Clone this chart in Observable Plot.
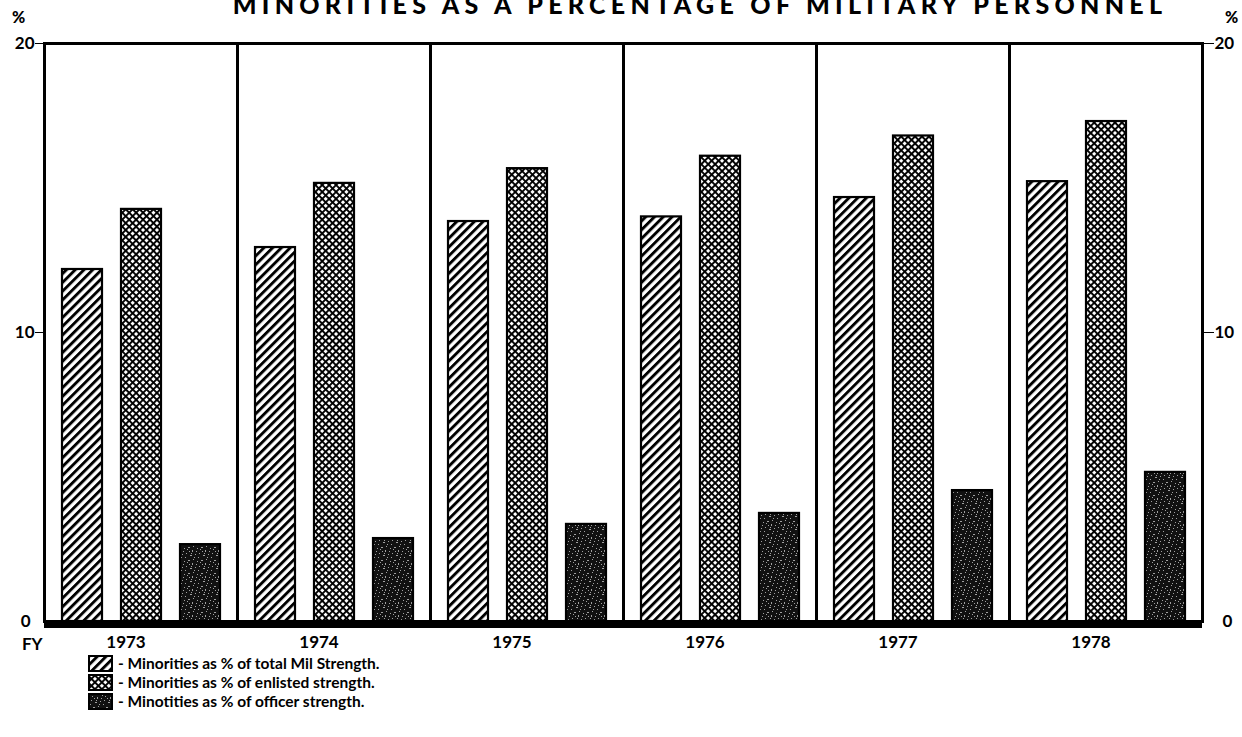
<!DOCTYPE html>
<html>
<head>
<meta charset="utf-8">
<script src="https://cdn.jsdelivr.net/npm/d3@7"></script>
<script src="https://cdn.jsdelivr.net/npm/@observablehq/plot@0.6"></script>
<style>
  body { margin: 0; background: #fff; }
  #wrap { position: relative; width: 1242px; height: 737px; overflow: hidden; font-family: Lato, "DejaVu Sans", sans-serif; color: #000; }
  #title { position: absolute; top: -8px; left: 700px; transform: translateX(-50%); white-space: nowrap;
           font-size: 25px; line-height: 25px; font-weight: 900; letter-spacing: 5.3px; }
  #chart { position: absolute; left: 0; top: 0; }
  .pct { position: absolute; top: 7px; font-size: 16px; font-weight: 900; }
  #fy { position: absolute; left: 22px; top: 633px; font-size: 17px; font-weight: 700; }
  #legend { position: absolute; left: 88px; top: 654px; }
  .row { display: flex; align-items: center; height: 19px; font-size: 15.5px; line-height: 17px; font-weight: 700; }
  .row svg { margin-right: 5px; }
</style>
</head>
<body>
<div id="wrap">
  <div id="chart"></div>
  <div id="title">MINORITIES AS A PERCENTAGE OF MILITARY PERSONNEL</div>
  <div class="pct" style="left:12px">%</div>
  <div class="pct" style="left:1225px">%</div>
  <div id="fy">FY</div>
  <div id="legend"></div>
</div>
<script>
// ---- data ----
const years = ["1973", "1974", "1975", "1976", "1977", "1978"];
const seriesKeys = ["total", "enlisted", "officer"];
const seriesLabels = [
  "- Minorities as % of total Mil Strength.",
  "- Minorities as % of enlisted strength.",
  "- Minotities as % of officer strength."
];
const totalPct    = [12.18, 12.94, 13.84, 14.0, 14.67, 15.22];
const enlistedPct = [14.26, 15.16, 15.67, 16.1, 16.8, 17.3];
const officerPct  = [2.66, 2.87, 3.36, 3.74, 4.53, 5.16];
const yTicksMain = [10, 20];
const yTickZero = [0];
const patternIds = ["pHatch", "pCross", "pDark"];

const seriesValues = [totalPct, enlistedPct, officerPct];
const data = years.flatMap((year, i) =>
  seriesKeys.map((s, j) => ({ year, series: s, value: seriesValues[j][i] })));

const font = { fontSize: 17, fontWeight: "bold" };

const chart = Plot.plot({
  width: 1242,
  height: 662,
  marginTop: 43,
  marginBottom: 41,
  marginLeft: 43,
  marginRight: 39,
  style: { fontFamily: "Lato, 'DejaVu Sans', sans-serif", background: "transparent" },
  fx: { domain: years, padding: 0, label: null },
  x: { domain: seriesKeys, paddingInner: 0.33, paddingOuter: 0.29, axis: null },
  y: { domain: [0, 20], label: null },
  color: { domain: seriesKeys, range: patternIds.map(id => `url(#${id})`) },
  marks: [
    Plot.frame({ stroke: "black", strokeWidth: 3 }),
    Plot.barY(data, { fx: "year", x: "series", y: "value", fill: "series", stroke: "black", strokeWidth: 2.2 }),
    Plot.ruleY([0], { stroke: "black", strokeWidth: 7, dy: 3 }),
    Plot.axisY({ anchor: "left", ticks: yTicksMain, tickSize: 9, tickPadding: 1, label: null, ...font }),
    Plot.axisY({ anchor: "left", ticks: yTickZero, tickSize: 0, tickPadding: 14, label: null, ...font }),
    Plot.axisY({ anchor: "right", ticks: yTicksMain, tickSize: 11, tickPadding: 1, label: null, ...font }),
    Plot.axisY({ anchor: "right", ticks: yTickZero, tickSize: 0, tickPadding: 20, label: null, ...font }),
    Plot.axisFx({ anchor: "bottom", tickSize: 0, tickPadding: 14, dx: -15, label: null, ...font })
  ]
});

// pattern definitions
function addDefs(svgSel) {
  const defs = svgSel.insert("defs", ":first-child");
  const h = defs.append("pattern").attr("id", "pHatch").attr("patternUnits", "userSpaceOnUse")
    .attr("width", 6.2).attr("height", 6.2).attr("patternTransform", "rotate(45)");
  h.append("rect").attr("width", 6.2).attr("height", 6.2).attr("fill", "white");
  h.append("rect").attr("width", 2.9).attr("height", 6.2).attr("fill", "black");

  const c = defs.append("pattern").attr("id", "pCross").attr("patternUnits", "userSpaceOnUse")
    .attr("width", 4.9).attr("height", 4.9).attr("patternTransform", "rotate(45)");
  c.append("rect").attr("width", 4.9).attr("height", 4.9).attr("fill", "white");
  c.append("rect").attr("width", 1.9).attr("height", 4.9).attr("fill", "black");
  c.append("rect").attr("width", 4.9).attr("height", 1.9).attr("fill", "black");

  const d = defs.append("pattern").attr("id", "pDark").attr("patternUnits", "userSpaceOnUse")
    .attr("width", 13).attr("height", 13);
  d.append("rect").attr("width", 13).attr("height", 13).attr("fill", "#111");
  const specks = [[1,2,1,1],[5,1,2,1],[9,4,1,2],[3,7,1,1],[7,9,2,1],[11,11,1,1],[2,11,1,1],[6,5,1,1],[10,0,1,1],[0,5,1,1],[4,3,1,1],[8,7,1,1],[12,8,1,1]];
  specks.forEach(([x, y, w, hh]) => d.append("rect").attr("x", x).attr("y", y).attr("width", w).attr("height", hh).attr("fill", "#a0a0a0"));
}
addDefs(d3.select(chart));
document.getElementById("chart").appendChild(chart);

// legend
const legend = d3.select("#legend");
seriesKeys.forEach((s, i) => {
  const row = legend.append("div").attr("class", "row");
  const sw = row.append("svg").attr("width", 25).attr("height", 17);
  sw.append("rect").attr("x", 1).attr("y", 1).attr("width", 23).attr("height", 15)
    .attr("fill", `url(#${patternIds[i]})`).attr("stroke", "black").attr("stroke-width", 2);
  row.append("span").text(seriesLabels[i]);
});
</script>
</body>
</html>
